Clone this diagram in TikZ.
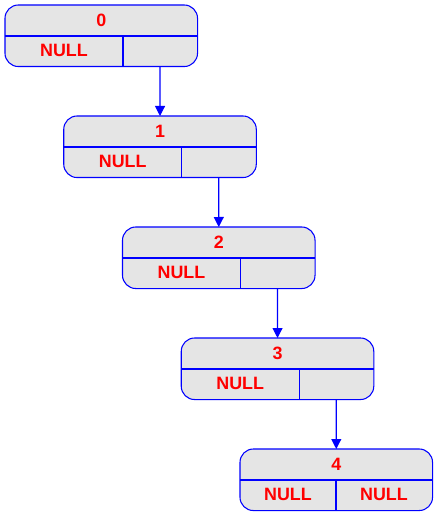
\documentclass[tikz,border=0pt]{standalone}
\usepackage{fontspec}
\setmainfont{Liberation Sans}
\usetikzlibrary{calc,arrows.meta}
\tikzset{
  x=0.75pt, y=-0.75pt,
  rec/.style={minimum width=144pt, minimum height=45.75pt, inner sep=0pt, anchor=north west},
  box/.style={draw=blue, fill=gray!20, rounded corners=10pt, line width=0.8pt},
  sep/.style={draw=blue, line width=0.8pt},
  lbl/.style={text=red, font=\fontsize{13.4}{16}\selectfont\bfseries, inner sep=0pt},
  link/.style={draw=blue, line width=0.8pt, -{Triangle[length=7.5pt,width=7.5pt]}}
}
\begin{document}
\begin{tikzpicture}
\useasboundingbox (0,0) rectangle (437,516);
\foreach \i in {0,...,4} {
  \node[rec] (n\i) at ({5+58.75*\i},{5+111*\i}) {};
  \draw[box] (n\i.north west) rectangle (n\i.south east);
  \draw[sep] ($(n\i.north west)+(0,31)$) -- ($(n\i.north east)+(0,31)$);
  \node[lbl] (t\i) at ($(n\i.north)+(0,15)$) {\i};
}
\foreach \i in {0,...,3} {
  \draw[sep] ($(n\i.north west)+(118,31)$) -- ($(n\i.south west)+(118,0)$);
  \node[lbl] (l\i) at ($(n\i.north west)+(59,45)$) {NULL};
  \coordinate (b\i) at ($(n\i.south west)+(155,0)$);
}
\draw[sep] ($(n4.north west)+(96,31)$) -- ($(n4.south west)+(96,0)$);
\node[lbl] (l4) at ($(n4.north west)+(48,45)$) {NULL};
\node[lbl] (r4) at ($(n4.north west)+(144,45)$) {NULL};
\draw[link] (b0) -- (n1.north);
\draw[link] (b1) -- (n2.north);
\draw[link] (b2) -- (n3.north);
\draw[link] (b3) -- (n4.north);
\end{tikzpicture}
\end{document}
